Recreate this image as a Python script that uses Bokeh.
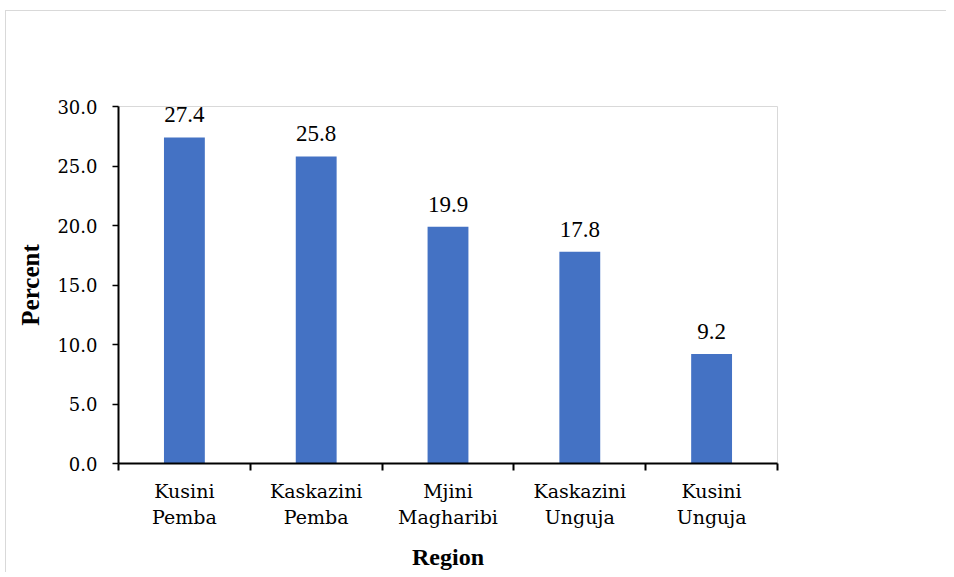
from bokeh.plotting import figure
from bokeh.models import (ColumnDataSource, Range1d, LinearAxis,
                          FixedTicker, PrintfTickFormatter, LabelSet)
from bokeh.embed import file_html
from bokeh.resources import INLINE

regions = ["Kusini Pemba", "Kaskazini Pemba", "Mjini Magharibi", "Kaskazini Unguja", "Kusini Unguja"]
region_labels = ["Kusini\nPemba", "Kaskazini\nPemba", "Mjini\nMagharibi", "Kaskazini\nUnguja", "Kusini\nUnguja"]
percent = [27.4, 25.8, 19.9, 17.8, 9.2]
y_ticks = [0, 5, 10, 15, 20, 25, 30]

FONT = "DejaVu Serif"              # regular serif text
FONT_BOLD = "Liberation Serif"     # bold axis titles
BAR = "#4472C4"

n = len(regions)
centres = [i + 0.5 for i in range(n)]          # category centres on an index scale
bounds = [float(i) for i in range(n + 1)]      # category boundaries

src = ColumnDataSource(dict(x=centres, region=regions, percent=percent,
                            label=[f"{v:.1f}" for v in percent]))

p = figure(width=940, height=560, output_backend="svg", toolbar_location=None,
           x_range=Range1d(0, n), y_range=Range1d(0, 30),
           x_axis_type=None, y_axis_type=None,
           min_border_left=112, min_border_top=95, min_border_right=169,
           min_border_bottom=108, frame_width=659, frame_height=357,
           styles={"margin-left": "5px", "margin-top": "10px",
                   "border-left": "1px solid #d9d9d9", "border-top": "1px solid #d9d9d9"})

p.vbar(x="x", top="percent", width=0.31, source=src, color=BAR, line_color=None)

xa = LinearAxis(ticker=FixedTicker(ticks=centres, minor_ticks=bounds),
                major_label_overrides={c: l for c, l in zip(centres, region_labels)})
xa.major_tick_out = 0
xa.major_tick_in = 0
xa.minor_tick_out = 7
xa.minor_tick_in = 0
xa.minor_tick_line_color = "black"
xa.minor_tick_line_width = 2
xa.axis_line_color = "black"
xa.axis_line_width = 2
xa.major_label_text_font = FONT
xa.major_label_text_font_size = "19px"
xa.major_label_text_color = "black"
xa.major_label_standoff = 9
xa.axis_label = "Region"
xa.axis_label_text_font = FONT_BOLD
xa.axis_label_text_font_size = "24px"
xa.axis_label_text_font_style = "bold"
xa.axis_label_text_color = "black"
xa.axis_label_standoff = 13
p.add_layout(xa, "below")

ya = LinearAxis(ticker=FixedTicker(ticks=y_ticks, minor_ticks=[]),
                formatter=PrintfTickFormatter(format="%.1f"))
ya.major_tick_out = 6
ya.major_tick_in = 0
ya.major_tick_line_color = "black"
ya.major_tick_line_width = 1.5
ya.axis_line_color = "black"
ya.axis_line_width = 2
ya.major_label_text_font = FONT
ya.major_label_text_font_size = "18px"
ya.major_label_text_color = "black"
ya.major_label_standoff = 15
ya.axis_label = "Percent"
ya.axis_label_text_font = FONT_BOLD
ya.axis_label_text_font_size = "25px"
ya.axis_label_text_font_style = "bold"
ya.axis_label_text_color = "black"
ya.axis_label_standoff = 10
p.add_layout(ya, "left")

labels = LabelSet(x="x", y="percent", text="label", source=src,
                  text_align="center", text_baseline="alphabetic", y_offset=15,
                  text_font=FONT, text_font_size="23px", text_color="black")
p.add_layout(labels)

p.xgrid.visible = False
p.ygrid.visible = False
p.outline_line_color = "#d9d9d9"
p.outline_line_width = 1
p.background_fill_color = "white"
p.border_fill_color = "white"

open("out.html", "w").write(file_html(p, INLINE))
